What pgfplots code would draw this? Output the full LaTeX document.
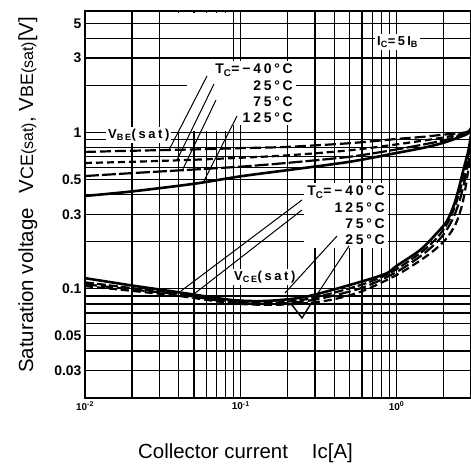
\documentclass[border=0pt]{standalone}
\usepackage{fontspec}
\setmainfont{Liberation Sans}
\newfontfamily\annfont{Liberation Sans}[LetterSpace=20]
\usepackage{pgfplots}
\pgfplotsset{compat=1.18}

\begin{document}
\begin{tikzpicture}
\useasboundingbox (0,0) rectangle (471bp,466bp);
\begin{axis}[
    at={(85bp,68bp)}, anchor=south west,
    scale only axis, width=388bp, height=387bp,
    xmode=log, ymode=log,
    xmin=0.01, xmax=3.1, ymin=0.02, ymax=6,
    xtick={0.01,0.02,0.03,0.04,0.05,0.06,0.07,0.08,0.09,0.1,0.2,0.3,0.4,0.5,0.6,0.7,0.8,0.9,1,2,3},
    xticklabels={10\textsuperscript{-2},,,,,,,,,10\textsuperscript{-1},,,,,,,,,10\textsuperscript{0},,},
    ytick={0.02,0.03,0.04,0.05,0.06,0.07,0.08,0.09,0.1,0.2,0.3,0.4,0.5,0.6,0.7,0.8,0.9,1,2,3,4,5,6},
    yticklabels={,0.03,,0.05,,,,,0.1,,0.3,,0.5,,,,,1,,3,,5,},
    grid=major,
    major grid style={black, line width=1.3bp},
    major tick length=0pt,
    axis line style={line width=2.4bp},
    yticklabel style={font=\fontsize{14}{14}\selectfont\bfseries},
    xticklabel style={font=\fontsize{10}{10}\selectfont\bfseries},
    no markers,
    every axis plot/.append style={black, line width=2.2bp, smooth},
]
% blank part of the grid above 1 V
\fill[white] (axis cs:0.0352,5.85) rectangle (axis cs:0.0841,1.03);
\draw[black, line width=1.3bp]
    (axis cs:0.03,5) -- (axis cs:0.1,5)
    (axis cs:0.03,4) -- (axis cs:0.1,4)
    (axis cs:0.03,3) -- (axis cs:0.1,3)
    (axis cs:0.03,2) -- (axis cs:0.045,2);

% VBE(sat)
\addplot[dash pattern=on 11bp off 4bp] coordinates {
    (0.01,0.752) (0.02,0.765) (0.05,0.78) (0.1,0.795) (0.2,0.81) (0.5,0.855)
    (1,0.91) (1.5,0.94) (2,0.97) (2.5,0.99) (2.9,1.02) (3.1,1.15)};
\addplot[dash pattern=on 7bp off 4bp] coordinates {
    (0.01,0.639) (0.02,0.65) (0.05,0.67) (0.1,0.69) (0.2,0.715) (0.5,0.77)
    (1,0.84) (1.5,0.89) (2,0.93) (2.5,0.97) (2.9,1.01) (3.1,1.15)};
\addplot[dash pattern=on 14bp off 3bp] coordinates {
    (0.01,0.527) (0.02,0.55) (0.05,0.58) (0.1,0.605) (0.2,0.64) (0.5,0.70)
    (1,0.78) (1.5,0.84) (2,0.89) (2.5,0.95) (2.9,1.0) (3.1,1.15)};
\addplot[solid, line width=2.6bp] coordinates {
    (0.01,0.393) (0.02,0.42) (0.05,0.47) (0.1,0.525) (0.2,0.575) (0.5,0.65)
    (1,0.74) (1.5,0.80) (2,0.86) (2.5,0.93) (2.9,0.995) (3.1,1.15)};

% VCE(sat)
\addplot[solid, line width=2.6bp] coordinates {
    (0.01,0.117) (0.02,0.105) (0.04,0.095) (0.086,0.085) (0.14,0.0835)
    (0.23,0.087) (0.323,0.0936) (0.61,0.112) (0.866,0.1257) (1.0,0.14)
    (1.418,0.177) (1.815,0.227) (2.1,0.27) (2.32,0.336) (2.5,0.43)
    (2.69,0.577) (2.9,0.774) (3.0,0.95) (3.1,1.2)};
\addplot[dash pattern=on 9bp off 3bp] coordinates {
    (0.01,0.110) (0.02,0.101) (0.04,0.093) (0.086,0.083) (0.14,0.081)
    (0.23,0.084) (0.33,0.090) (0.61,0.107) (0.93,0.128) (1.45,0.172)
    (1.88,0.22) (2.2,0.28) (2.45,0.37) (2.7,0.52) (2.9,0.72) (3.02,0.95) (3.1,1.15)};
\addplot[dash pattern=on 12bp off 4bp] coordinates {
    (0.01,0.107) (0.02,0.099) (0.04,0.092) (0.086,0.082) (0.14,0.080)
    (0.23,0.082) (0.35,0.088) (0.61,0.102) (1.0,0.128) (1.5,0.168)
    (1.95,0.215) (2.3,0.28) (2.55,0.37) (2.75,0.50) (2.92,0.68) (3.05,0.9) (3.1,1.05)};
\addplot[dash pattern=on 8bp off 4bp] coordinates {
    (0.01,0.104) (0.02,0.097) (0.04,0.090) (0.086,0.081) (0.14,0.079)
    (0.23,0.080) (0.38,0.085) (0.61,0.097) (1.05,0.1257) (1.6,0.165)
    (2.05,0.205) (2.4,0.26) (2.65,0.35) (2.83,0.50) (3.0,0.75) (3.1,0.95)};
\end{axis}

% annotations, in pixel units measured from the top left corner
\begin{scope}[x=1bp, y=-1bp, yshift=466bp]
  \node[anchor=north east, fill=white, align=right, inner sep=3bp,
        font=\annfont\bfseries\fontsize{14}{16.2}\selectfont] at (296,61)
        {T\textsubscript{C}=−40°C\\25°C\\75°C\\125°C};
  \node[anchor=north east, fill=white, align=right, inner sep=3bp,
        font=\annfont\bfseries\fontsize{14}{16.3}\selectfont] at (388,183)
        {T\textsubscript{C}=−40°C\\125°C\\75°C\\25°C};
  \node[anchor=west, fill=white, inner sep=2bp,
        font=\annfont\bfseries\fontsize{13}{13}\selectfont] at (106,135)
        {V\textsubscript{BE}(sat)};
  \node[anchor=west, fill=white, inner sep=2bp,
        font=\annfont\bfseries\fontsize{13}{13}\selectfont] at (232,277)
        {V\textsubscript{CE}(sat)};
  \node[anchor=west, fill=white, inner sep=2bp,
        font=\annfont\bfseries\fontsize{13}{13}\selectfont] at (375,42)
        {I\textsubscript{C}=5\,I\textsubscript{B}};

  \draw[line width=1bp] (207,76) -- (169,150) (214,84) -- (177,160)
       (216,100) -- (182,171) (237,116) -- (203,183);
  \draw[line width=1bp] (302,200) -- (181,291) (302,210) -- (194,294)
       (337,236) -- (285,293) (349,246) -- (318,293);
  \draw[line width=1.4bp] (292,305) -- (302,318) -- (312,302);

  \node[anchor=base west, inner sep=0, font=\fontsize{20.5}{24}\selectfont]
       at (138,459) {Collector current\hspace{24bp}Ic[A]};
  \node[rotate=90, anchor=base west, inner sep=0, font=\fontsize{20.5}{24}\selectfont]
       at (33,373) {Saturation voltage\hspace{15bp}V{\fontsize{18}{18}\selectfont CE}{\fontsize{16}{16}\selectfont(sat)},
       V{\fontsize{18}{18}\selectfont BE}{\fontsize{16}{16}\selectfont(sat)}[V]};
\end{scope}
\end{tikzpicture}
\end{document}
